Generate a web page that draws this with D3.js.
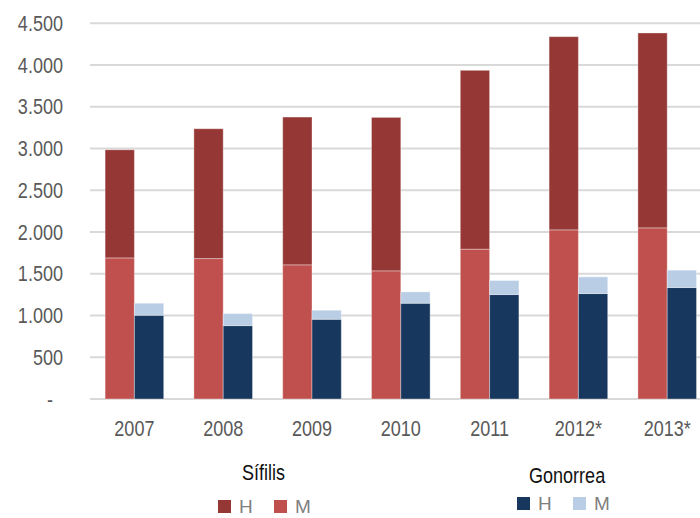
<!DOCTYPE html>
<html>
<head>
<meta charset="utf-8">
<script src="https://cdn.jsdelivr.net/npm/d3@7"></script>
<style>
  html, body { margin: 0; padding: 0; background: #fff; }
  svg { display: block; font-family: "Liberation Sans", Arial, sans-serif; }
</style>
</head>
<body>
<svg id="chart" width="700" height="518"></svg>
<script>
// ---- Data ----
const years = ["2007", "2008", "2009", "2010", "2011", "2012*", "2013*"];
const sifilisM = [1690, 1682, 1607, 1535, 1795, 2026, 2050];
const sifilisH = [1295, 1555, 1770, 1838, 2142, 2314, 2334];
const gonorreaH = [1003, 879, 955, 1147, 1251, 1263, 1335];
const gonorreaM = [144, 144, 108, 136, 168, 200, 208];
const yTicks = [0, 500, 1000, 1500, 2000, 2500, 3000, 3500, 4000, 4500];
const groups = ["Sífilis", "Gonorrea"];

// ---- Setup ----
const NARROW = 0.82;
const svg = d3.select("#chart");
const left = 90, step = 88.8;
const x = d3.scaleBand().domain(years).range([left, left + step * years.length])
  .paddingInner(0.34).paddingOuter(0.17);
const xs = d3.scaleBand().domain(groups).range([0, x.bandwidth()]).padding(0);
const y = d3.scaleLinear().domain([0, 4500]).range([399, 23.3]);

const loc = d3.formatLocale({ decimal: ",", thousands: ".", grouping: [3], currency: ["", ""] });
const fmt = loc.format(",");

// condense text horizontally (narrow face)
function narrow(sel) {
  sel.each(function () {
    const t = d3.select(this);
    const xv = +(t.attr("x") || 0);
    t.attr("x", xv / NARROW).attr("transform", `scale(${NARROW},1)`);
  });
}

// gridlines
svg.append("g").selectAll("line").data(yTicks).join("line")
  .attr("x1", left).attr("x2", 700)
  .attr("y1", d => y(d)).attr("y2", d => y(d))
  .attr("stroke", "#d9d9d9").attr("stroke-width", 2);

// y axis
const yAxis = svg.append("g").attr("transform", `translate(${left},0)`)
  .call(d3.axisLeft(y).tickValues(yTicks).tickSize(0).tickPadding(27)
    .tickFormat(d => d === 0 ? "-" : fmt(d)));
yAxis.select(".domain").remove();
yAxis.selectAll("text").attr("font-size", 22).attr("fill", "#595959")
  .style("font-family", "inherit");
yAxis.selectAll(".tick").filter(d => d === 0).select("text")
  .attr("text-anchor", "middle").attr("x", -40);
narrow(yAxis.selectAll("text"));

// bars
const rows = years.map((yr, i) => ({
  year: yr,
  sifilis: { M: sifilisM[i], H: sifilisH[i] },
  gonorrea: { H: gonorreaH[i], M: gonorreaM[i] }
}));

const sifStack = d3.stack().keys(["M", "H"])(rows.map(r => r.sifilis));
const gonStack = d3.stack().keys(["H", "M"])(rows.map(r => r.gonorrea));
const sifColors = { M: "#c0504d", H: "#953735" };
const gonColors = { H: "#17375e", M: "#b9cde5" };

function drawStack(stack, group, colors) {
  svg.append("g").selectAll("g").data(stack).join("g")
    .attr("fill", s => colors[s.key])
    .selectAll("rect").data(s => s).join("rect")
      .attr("x", (d, i) => x(years[i]) + xs(group))
      .attr("width", xs.bandwidth())
      .attr("y", d => y(d[1]))
      .attr("height", d => y(d[0]) - y(d[1]))
      .attr("stroke", "rgba(255,255,255,0.35)").attr("stroke-width", 1);
}
drawStack(sifStack, "Sífilis", sifColors);
drawStack(gonStack, "Gonorrea", gonColors);

// x axis labels
const xAxis = svg.append("g").attr("transform", "translate(0,399)")
  .call(d3.axisBottom(x).tickSize(0).tickPadding(21));
xAxis.select(".domain").remove();
xAxis.selectAll("text").attr("font-size", 22).attr("fill", "#595959")
  .style("font-family", "inherit");
narrow(xAxis.selectAll("text"));

// legends
function legend(title, tx, ty, items, lx, ly) {
  const tt = svg.append("text").attr("x", tx).attr("y", ty).attr("font-size", 22)
    .attr("fill", "#111").text(title);
  narrow(tt);
  const g = svg.append("g");
  items.forEach((it, i) => {
    const ox = lx + i * 56;
    g.append("rect").attr("x", ox).attr("y", ly).attr("width", 13).attr("height", 13)
      .attr("fill", it.color);
    g.append("text").attr("x", ox + 21).attr("y", ly + 13).attr("font-size", 19)
      .attr("fill", "#7f7f7f").text(it.label);
  });
}
legend("Sífilis", 242, 480, [{ label: "H", color: sifColors.H }, { label: "M", color: sifColors.M }], 218, 500);
legend("Gonorrea", 529, 483, [{ label: "H", color: gonColors.H }, { label: "M", color: gonColors.M }], 517, 497);
</script>
</body>
</html>
